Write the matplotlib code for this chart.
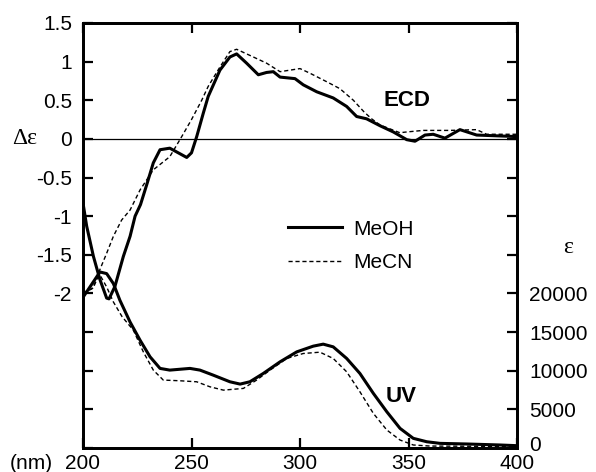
import matplotlib
matplotlib.use("Agg")
import matplotlib.pyplot as plt
import matplotlib.transforms as mtransforms
import numpy as np

plt.rcParams['font.family'] = ['Liberation Sans', 'DejaVu Sans']

# ---- data ----
ecd_meoh_wl = [200, 201.7, 204.8, 207.8, 210.9, 212, 214.7, 218.6, 221.7, 224, 226.5, 229.5,
               232.4, 235.5, 240, 243.9, 247.8, 250, 252.4, 255.4, 257.7, 263.1, 267.7, 270.8,
               275.4, 280.8, 284.6, 287.7, 290.8, 297.7, 301.5, 307.7, 315.3, 321.5, 326.1,
               330.7, 336.9, 343, 349.2, 353, 357.6, 361.4, 366.8, 373.7, 381.4, 390.6, 400]
ecd_meoh = [-0.83, -1.13, -1.52, -1.82, -2.06, -2.07, -1.91, -1.52, -1.26, -1.0, -0.85, -0.58,
            -0.31, -0.14, -0.12, -0.18, -0.24, -0.18, 0.03, 0.33, 0.55, 0.89, 1.06, 1.10,
            0.98, 0.83, 0.86, 0.87, 0.80, 0.78, 0.70, 0.61, 0.53, 0.42, 0.29,
            0.26, 0.17, 0.09, -0.01, -0.03, 0.05, 0.06, 0.01, 0.12, 0.05, 0.04, 0.03]

ecd_mecn_wl = [200, 204.8, 207.8, 210.9, 214, 217.8, 221.7, 226.3, 232.4, 240, 245.5, 250,
               254.7, 257.7, 263.1, 267.7, 270.8, 278.5, 284.6, 290.8, 295.4, 300, 304.6,
               312.3, 318.4, 324.6, 329.5, 333, 336.9, 346, 349.2, 356.8, 369.1, 381.4, 386, 400]
ecd_mecn = [-1.99, -1.93, -1.69, -1.48, -1.26, -1.05, -0.92, -0.66, -0.40, -0.23, 0.03, 0.25,
            0.50, 0.68, 0.93, 1.13, 1.16, 1.06, 0.98, 0.87, 0.89, 0.91, 0.85,
            0.74, 0.65, 0.50, 0.35, 0.26, 0.18, 0.08, 0.09, 0.11, 0.11, 0.12, 0.06, 0.06]

uv_meoh_wl = [200, 203.2, 207.8, 210.9, 214, 217, 221.7, 226.3, 230.9, 235.5, 240, 249.3, 253.9,
              260, 267.7, 272.4, 276.9, 283.1, 290.8, 298.5, 306.1, 310.7, 315.3, 321.5, 327.6,
              333.8, 340, 346.1, 352.2, 358.4, 364.5, 376.8, 392.2, 400]
uv_meoh = [19500, 20840, 22780, 22570, 21280, 19120, 16300, 13950, 11800, 10300, 10080, 10300, 10080,
           9430, 8570, 8270, 8570, 9650, 11150, 12440, 13180, 13440, 13090, 11590, 9650,
           7070, 4690, 2540, 1250, 810, 600, 520, 390, 300]

uv_mecn_wl = [200, 204, 207.8, 210.9, 214, 218, 223.2, 227.8, 232.4, 237, 244.7, 252.4, 258.5,
              264.7, 273.9, 280, 286.2, 293.9, 301.5, 309.2, 315.3, 321.5, 327.6, 333.8, 340,
              346.1, 352.2, 360, 400]
uv_mecn = [20000, 20600, 22400, 20840, 18900, 17000, 15250, 12440, 10080, 8790, 8700, 8570, 7920,
           7490, 7710, 8790, 10080, 11590, 12230, 12400, 11590, 9860, 7280, 4480, 2330,
           1030, 390, 250, 200]

x_ticks = [200, 250, 300, 350, 400]
left_ticks = [-4, -3.5, -3, -2.5, -2, -1.5, -1, -0.5, 0, 0.5, 1, 1.5]
left_labels = ['', '', '', '', '-2', '-1.5', '-1', '-0.5', '0', '0.5', '1', '1.5']
right_ticks = list(range(0, 55001, 5000))
right_labels = ['0', '5000', '10000', '15000', '20000'] + [''] * 7

# ---- figure ----
fig = plt.figure(figsize=(5.96, 4.72), dpi=100)
ax = fig.add_axes([83/596, 24/472, 434/596, 425/472])
ax2 = ax.twinx()

lw_solid = 2.2
lw_dash = 1.0
dash = (0, (3, 2))

l1, = ax.plot(ecd_meoh_wl, ecd_meoh, color='black', lw=lw_solid, label='MeOH')
l2, = ax.plot(ecd_mecn_wl, ecd_mecn, color='black', lw=lw_dash, linestyle=dash, label='MeCN')
ax2.plot(uv_meoh_wl, uv_meoh, color='black', lw=lw_solid)
ax2.plot(uv_mecn_wl, uv_mecn, color='black', lw=lw_dash, linestyle=dash)

ax.axhline(0, color='black', lw=0.9)

ax.set_xlim(200, 400)
ax.set_ylim(-4, 1.5)
ax2.set_ylim(0, 55000)

ax.set_xticks(x_ticks)
ax.set_yticks(left_ticks)
ax.set_yticklabels(left_labels)
ax2.set_yticks(right_ticks)
ax2.set_yticklabels(right_labels)

fs = 15
ax.tick_params(axis='both', direction='in', length=7, width=1.6, labelsize=fs, top=True)
ax.tick_params(axis='y', pad=8)
ax.tick_params(axis='x', pad=4)
ax2.tick_params(axis='y', direction='in', length=7, width=1.6, labelsize=fs, pad=9)

for a in (ax, ax2):
    for s in a.spines.values():
        s.set_linewidth(2.0)

# nudge the right-axis "0" label up a little, as in the reference
fig.canvas.draw()
zero_lbl = ax2.yaxis.get_major_ticks()[0].label2
zero_lbl.set_transform(zero_lbl.get_transform() +
                       mtransforms.ScaledTranslation(0, 3/72, fig.dpi_scale_trans))

# axis labels
ax.text(-0.135, 0, '\u0394\u03b5', transform=mtransforms.blended_transform_factory(ax.transAxes, ax.transData),
        ha='center', va='center', fontsize=17, family=['Liberation Serif', 'DejaVu Serif'])
ax.text(1.1175, -1.41, '\u03b5', transform=mtransforms.blended_transform_factory(ax.transAxes, ax.transData),
        ha='center', va='center', fontsize=17, family=['Liberation Serif', 'DejaVu Serif'])
trans_nm = mtransforms.offset_copy(ax.transAxes, fig=fig, x=0, y=-4, units='points')
ax.text(-0.12, 0, '(nm)', transform=trans_nm, ha='center', va='top', fontsize=fs)

ax.text(349.3, 0.50, 'ECD', ha='center', va='center', fontsize=16, fontweight='bold')
ax.text(346.5, -3.33, 'UV', ha='center', va='center', fontsize=16, fontweight='bold')

ax.legend(handles=[l1, l2], loc='upper left', bbox_to_anchor=(0.472, 0.537), frameon=False,
          fontsize=fs, handlelength=2.6, handletextpad=0.55, labelspacing=0.68, borderpad=0,
          borderaxespad=0)

fig.savefig('out.png', dpi=100)
